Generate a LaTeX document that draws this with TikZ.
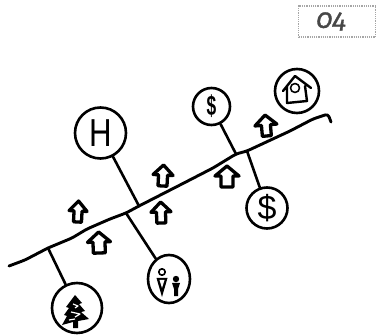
\documentclass[tikz,border=0pt]{standalone}
\usetikzlibrary{shapes.geometric}
\usepackage{fontspec}
\setmainfont{Fira Sans}[Numbers=OldStyle,ItalicFeatures={FakeBold=1.2}]
\newfontfamily\handfont{Liberation Sans}
\tikzset{
  x=1pt,y=-1pt,
  pen/.style={line width=2.6pt,line cap=round,line join=round,black},
  spine/.style={pen,line width=2.9pt,rounded corners=3pt},
  ring/.style={pen,draw,circle,inner sep=0pt,minimum size=#1},
  oval/.style={pen,draw,ellipse,inner sep=0pt,minimum width=42pt,minimum height=48pt},
  hsarrow/.style={pen,fill=white,line width=3.3pt},
  glyph/.style={line width=1.6pt,line join=round,line cap=round,black},
  numbox/.style={draw=gray!70,densely dotted,line width=1.2pt,minimum width=77pt,minimum height=31pt,inner sep=0pt,text=black!72}
}
\newcommand\upmark[5]{% x y rotate halfwidth shafthalf
  \draw[hsarrow,shift={(#1,#2)},rotate=#3] (0,-11) -- (#4,-1) -- (#5,-1) -- (#5,10) -- (-#5,10) -- (-#5,-1) -- (-#4,-1) -- cycle;}
\begin{document}
\begin{tikzpicture}
\useasboundingbox (0,0) rectangle (377,336);
% number box
\node[numbox,align=center] (num) at (337,21.5) {\hspace*{-12pt}\fontsize{27}{27}\selectfont\itshape 04};
% spine anchors
\coordinate (s0) at (9,266);
\coordinate (tj) at (48,248);
\coordinate (fj) at (126,213);
\coordinate (hj) at (139,206);
\coordinate (sj) at (236,154);
\coordinate (dj) at (247,151);
\coordinate (s9) at (328,114);
\draw[spine] (s0) -- (25,260) -- (tj) -- (72,238) -- (87,229) -- (110,219) -- (fj) -- (hj) -- (180,185) -- (213,168) -- (sj) -- (dj) -- (290,131) -- (313,119) -- (s9) -- (331,122);
% rings
\node[ring=51pt] (hotel) at (100.5,133) {\handfont\fontsize{39}{39}\selectfont\scalebox{.8}[1]{H}};
\node[ring=50pt] (tree) at (77,308) {};
\node[oval] (family) at (169,279) {};
\node[ring=37pt] (coin) at (211.5,106.5) {\handfont\bfseries\fontsize{28}{28}\selectfont\scalebox{.62}[1]{\$}};
\node[ring=41pt] (money) at (267,208) {\handfont\fontsize{34}{34}\selectfont\$};
\node[ring=44pt] (home) at (297,91) {};
% connectors
\draw[pen] (tj) -- (tree);
\draw[pen] (fj) -- (family);
\draw[pen] (hj) -- (hotel);
\draw[pen] (sj) -- (coin);
\draw[pen] (dj) -- (money);
% up arrows
\upmark{78}{212}{-3}{9}{4}
\upmark{99}{243}{2}{11.5}{6}
\upmark{161}{213}{2}{10}{4.5}
\upmark{163}{176}{-3}{10}{4.5}
\upmark{227}{177}{0}{12}{6}
\upmark{266}{126}{5}{11}{4.5}
% tree icon
\fill[black,shift={(75,311)}] (0,-16) -- (7,-8) -- (4,-7) -- (10,0) -- (6,1) -- (14,8) -- (3,10) -- (3,17) -- (-2,17) -- (-2,11) -- (-13,14) -- (-8,5) -- (-11,4) -- (-6,-3) -- (-9,-4) -- cycle;
\draw[white,line width=1.2pt,line join=round,shift={(75,311)}] (-2,-7) -- (3,-5) -- (0,-3) (-4,1) -- (5,3) -- (0,6) (-6,9) -- (0,8);
% family icon
\draw[glyph,shift={(169,279)}] (-7,-7) circle (3.2);
\fill[black,shift={(169,279)}] (-12.5,-1) -- (-1.5,-1) -- (-7,18) -- cycle;
\fill[white,shift={(169,279)}] (-9.5,1) -- (-4.5,1) -- (-7,9) -- cycle;
\fill[black,shift={(169,279)}] (7,0) circle (3.2) (3,4) -- (11,4) -- (9,10) -- (9,17) -- (5,17) -- (5,10) -- cycle;
% house icon
\draw[glyph,line width=2.4pt,shift={(297,91)}] (-14,0) -- (-2,-15) -- (14,-3) (-10,-5) -- (-10,12) -- (10,10) -- (8,-5);
\draw[glyph,shift={(297,91)}] (-2,-3) circle (4.5);
\end{tikzpicture}
\end{document}
